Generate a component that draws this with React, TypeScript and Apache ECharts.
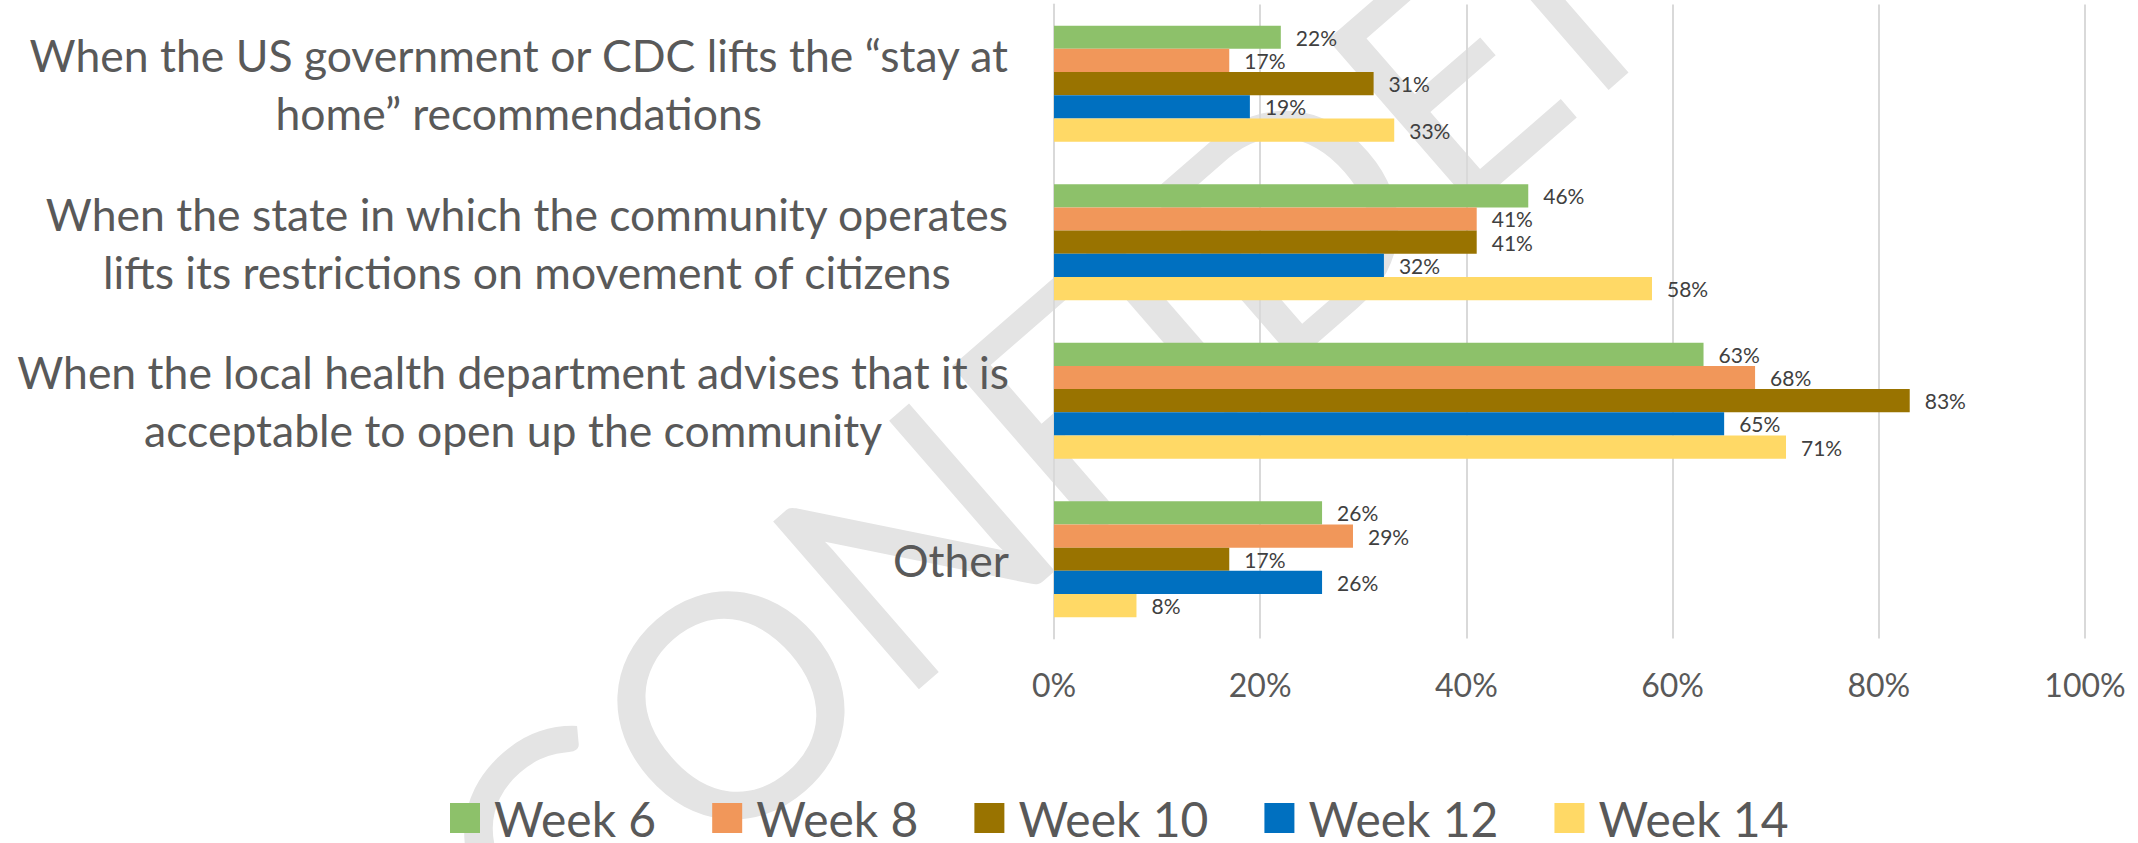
import React, { useEffect, useRef } from 'react';
import * as echarts from 'echarts';

const categories = [
  'When the US government or CDC lifts the “stay at\nhome” recommendations',
  'When the state in which the community operates\nlifts its restrictions on movement of citizens',
  'When the local health department advises that it is\nacceptable to open up the community',
  'Other',
];
const seriesNames = ['Week 6', 'Week 8', 'Week 10', 'Week 12', 'Week 14'];
const week6 = [22, 46, 63, 26];
const week8 = [17, 41, 68, 29];
const week10 = [31, 41, 83, 17];
const week12 = [19, 32, 65, 26];
const week14 = [33, 58, 71, 8];
const seriesValues = [week6, week8, week10, week12, week14];
const colors = ['#8DC16A', '#F1975A', '#997300', '#0070C0', '#FFD966'];
const axisMin = 0;
const axisMax = 100;
const axisStep = 20;
const watermarkText = 'CONFIDENTIAL';

const FONT = 'Lato, "Open Sans", sans-serif';

export default function App() {
  const ref = useRef<HTMLDivElement>(null);

  useEffect(() => {
    document.body.style.margin = '0';
    if (!ref.current) return;
    const chart = echarts.init(ref.current, undefined, { renderer: 'svg' });
    const option: any = {
      animation: false,
      backgroundColor: '#ffffff',
      color: colors,
      graphic: [
        {
          type: 'text',
          x: 580,
          y: 1030,
          rotation: (41 * Math.PI) / 180,
          z: -10,
          silent: true,
          style: {
            text: watermarkText,
            fontSize: 310,
            fontFamily: FONT,
            fontWeight: 'normal',
            fill: '#e4e4e4',
            align: 'left',
            verticalAlign: 'bottom',
          },
        },
      ],
      grid: {
        left: 1054,
        right: 53,
        top: 4.4,
        bottom: 204.5,
        outerBoundsMode: 'none',
        containLabel: false,
      },
      legend: {
        data: seriesNames,
        left: 450,
        top: 794,
        padding: 0,
        icon: 'rect',
        itemWidth: 30,
        itemHeight: 30,
        itemGap: 56,
        textStyle: {
          fontSize: 48,
          fontFamily: FONT,
          color: '#595959',
          padding: [0, 0, 0, 9],
        },
      },
      xAxis: {
        type: 'value',
        min: axisMin,
        max: axisMax,
        interval: axisStep,
        axisLine: { show: false },
        axisTick: { show: false },
        splitLine: { show: true, lineStyle: { color: '#d9d9d9', width: 2 } },
        axisLabel: {
          formatter: '{value}%',
          fontSize: 32,
          fontFamily: FONT,
          color: '#595959',
          margin: 30,
        },
      },
      yAxis: {
        type: 'category',
        data: categories,
        inverse: true,
        axisLine: { show: true, lineStyle: { color: '#d9d9d9', width: 2 } },
        axisTick: { show: false },
        axisLabel: {
          align: 'right',
          margin: 45,
          formatter: (v: string) =>
            v
              .split('\n')
              .map((l) => `{c|${l}}`)
              .join('\n'),
          rich: {
            c: {
              align: 'center',
              fontSize: 44.5,
              lineHeight: 58,
              fontFamily: FONT,
              color: '#595959',
            },
          },
        },
      },
      series: seriesNames.map((name, i) => ({
        name,
        type: 'bar',
        data: seriesValues[i],
        barGap: '0%',
        barCategoryGap: '26.8%',
        itemStyle: { color: colors[i] },
        label: {
          show: true,
          position: 'right',
          distance: 15,
          formatter: '{c}%',
          fontSize: 21,
          fontFamily: FONT,
          color: '#404040',
        },
      })),
    };
    chart.setOption(option);
    return () => chart.dispose();
  }, []);

  return <div ref={ref} style={{ width: 2138, height: 843 }} />;
}
